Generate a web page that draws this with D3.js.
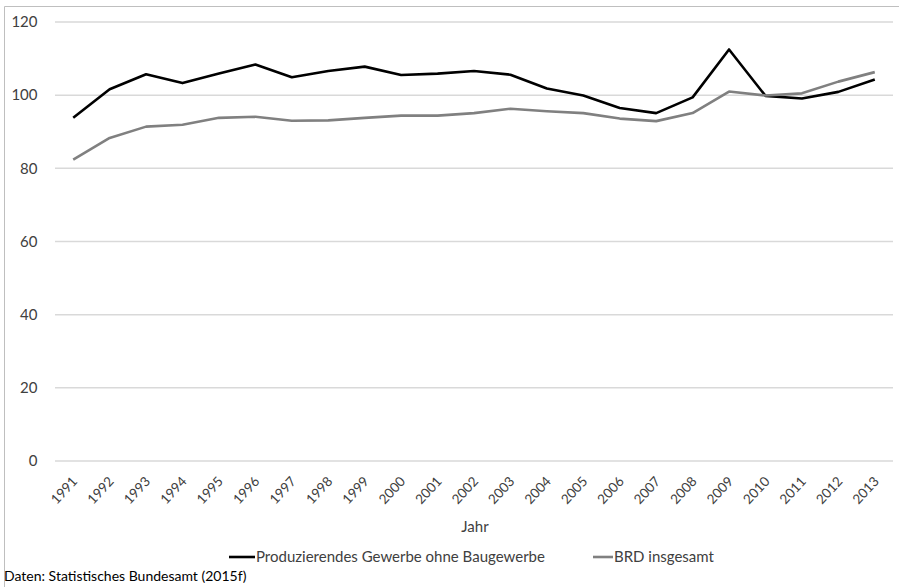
<!DOCTYPE html>
<html><head><meta charset="utf-8">
<script src="https://cdn.jsdelivr.net/npm/d3@7"></script>
<style>body{margin:0;background:#fff}svg{display:block;font-family:Lato,"Open Sans",sans-serif}</style>
</head><body>
<svg id="c" width="899" height="587"></svg>
<script>
const years = ["1991","1992","1993","1994","1995","1996","1997","1998","1999","2000","2001","2002","2003","2004","2005","2006","2007","2008","2009","2010","2011","2012","2013"];
const produzierend = [93.8,101.6,105.7,103.3,105.9,108.4,104.9,106.6,107.8,105.5,105.9,106.6,105.6,101.8,99.9,96.5,95.1,99.4,112.5,99.8,99.1,100.9,104.3];
const brd = [82.4,88.3,91.4,91.9,93.8,94.1,93.0,93.1,93.8,94.4,94.4,95.1,96.3,95.6,95.1,93.6,92.9,95.1,101.0,99.9,100.5,103.7,106.3];
const yTicks = [0,20,40,60,80,100,120];
const seriesNames = ["Produzierendes Gewerbe ohne Baugewerbe","BRD insgesamt"];
const seriesColors = ["#000000","#808080"];

const svg = d3.select("#c");
// frame
svg.append("path").attr("d","M4.5,587 V6.5 H899").attr("fill","none").attr("stroke","#bfbfbf").attr("stroke-width",1);

const x = d3.scaleBand().domain(years).range([55,893]);
const y = d3.scaleLinear().domain([0,120]).range([461,22]);

// grid
svg.append("g").selectAll("line").data(yTicks).join("line")
  .attr("x1",55).attr("x2",893).attr("y1",d=>y(d)).attr("y2",d=>y(d))
  .attr("stroke","#d9d9d9").attr("stroke-width",1.5);

// y axis labels
const yAxis = d3.axisLeft(y).tickValues(yTicks).tickSize(0).tickPadding(0);
const ya = svg.append("g").attr("transform","translate(37.5,0)").call(yAxis);
ya.select(".domain").remove();
ya.selectAll("text").attr("font-size",15).attr("fill","#404040").attr("font-family","Lato,sans-serif");

// x axis labels
const xAxis = d3.axisBottom(x).tickSize(0).tickPadding(0);
const xa = svg.append("g").attr("transform","translate(0,461)").call(xAxis);
xa.select(".domain").remove();
xa.selectAll("text").attr("font-size",13.5).attr("fill","#404040").attr("font-family","Lato,sans-serif")
  .attr("text-anchor","end").attr("dy",0).attr("y",0)
  .attr("transform","translate(5,21) rotate(-47)");

const line = d3.line().x((d,i)=>x(years[i])+x.bandwidth()/2).y(d=>y(d));
[produzierend, brd].forEach((s,k)=>{
  svg.append("path").datum(s).attr("d",line).attr("fill","none")
    .attr("stroke",seriesColors[k]).attr("stroke-width",2.6).attr("stroke-linejoin","round");
});

// axis title
svg.append("text").attr("x",475).attr("y",532).attr("text-anchor","middle")
  .attr("font-size",15).attr("fill","#404040").text("Jahr");

// legend
const lg = [{x:229,w:26},{x:593,w:20}];
lg.forEach((l,k)=>{
  svg.append("line").attr("x1",l.x).attr("x2",l.x+l.w).attr("y1",557).attr("y2",557)
    .attr("stroke",seriesColors[k]).attr("stroke-width",2.6);
  svg.append("text").attr("x",l.x+l.w+1).attr("y",562).attr("font-size",15)
    .attr("fill","#404040").text(seriesNames[k]);
});

svg.append("text").attr("x",4).attr("y",581).attr("font-size",14).attr("fill","#000")
  .text("Daten: Statistisches Bundesamt (2015f)");
</script>
</body></html>
